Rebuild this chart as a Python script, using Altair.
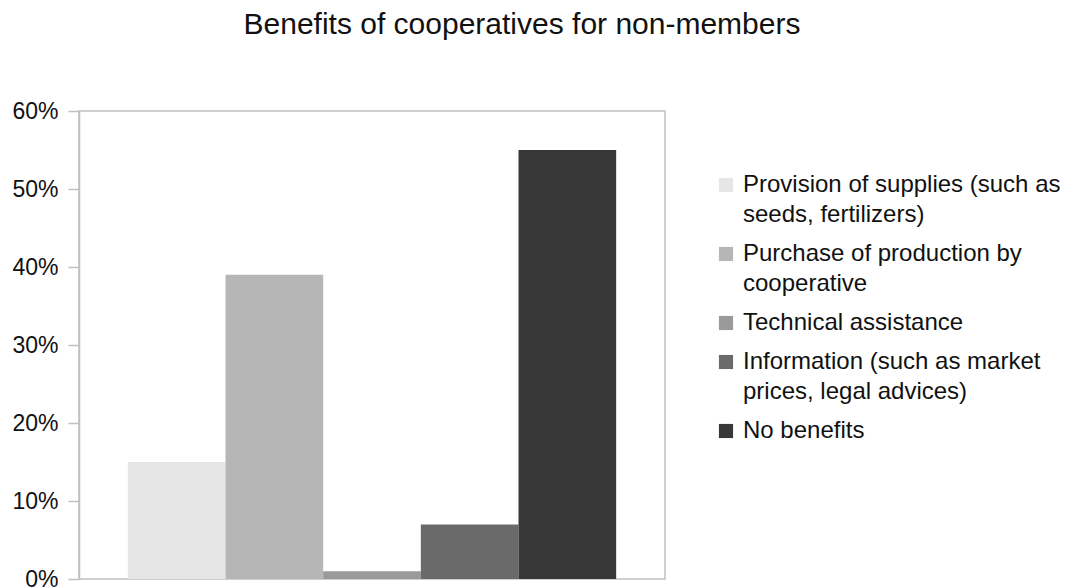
import altair as alt
import pandas as pd

categories = [
    "Provision of supplies (such as seeds, fertilizers)",
    "Purchase of production by cooperative",
    "Technical assistance",
    "Information (such as market prices, legal advices)",
    "No benefits",
]
values = [0.15, 0.39, 0.01, 0.07, 0.55]
colors = ["#e6e6e6", "#b6b6b6", "#9a9a9a", "#6a6a6a", "#383838"]
legend_lines = [
    ["Provision of supplies (such as", "seeds, fertilizers)"],
    ["Purchase of production by", "cooperative"],
    ["Technical assistance"],
    ["Information (such as market", "prices, legal advices)"],
    ["No benefits"],
]
y_ticks = [0, 0.1, 0.2, 0.3, 0.4, 0.5, 0.6]

df = pd.DataFrame({"category": categories, "value": values})

def js_str(s):
    return "'" + s.replace("'", "\\'") + "'"

label_expr = ""
for cat, lines in zip(categories, legend_lines):
    arr = "[" + ",".join(js_str(l) for l in lines) + "]"
    label_expr += f"datum.label == {js_str(cat)} ? {arr} : "
label_expr += "datum.label"

FONT = "Liberation Sans"

chart = (
    alt.Chart(df)
    .mark_bar(stroke=None)
    .encode(
        x=alt.X(
            "category:N",
            sort=categories,
            scale=alt.Scale(paddingInner=0, paddingOuter=0.5),
            axis=None,
        ),
        y=alt.Y(
            "value:Q",
            scale=alt.Scale(domain=[0, 0.6], nice=False),
            axis=alt.Axis(
                values=y_ticks,
                format=".0%",
                title=None,
                grid=False,
                tickSize=11,
                tickColor="#c0c0c0",
                tickWidth=1.5,
                domainColor="#c0c0c0",
                domainWidth=1.5,
                labelFont=FONT,
                labelFontSize=23,
                labelColor="#111111",
                labelPadding=10,
            ),
        ),
        color=alt.Color(
            "category:N",
            sort=categories,
            scale=alt.Scale(domain=categories, range=colors),
            legend=alt.Legend(
                title=None,
                orient="none",
                legendX=635,
                legendY=62,
                symbolType="square",
                symbolSize=200,
                symbolStrokeWidth=0,
                labelFont=FONT,
                labelFontSize=24,
                labelColor="#111111",
                labelOffset=5,
                labelLimit=400,
                labelExpr=label_expr,
                rowPadding=15,
            ),
        ),
    )
    .properties(
        width=586,
        height=468,
        padding={"left": 79, "top": 111, "right": 401, "bottom": 9},
        autosize=alt.AutoSizeParams(type="none"),
        title=alt.TitleParams(
            "Benefits of cooperatives for non-members",
            font=FONT,
            fontSize=30,
            fontWeight="normal",
            color="#111111",
            anchor="middle",
            dx=150,
            offset=60,
        ),
    )
    .configure(style={"guide-label": {"lineHeight": 30}})
    .configure_view(stroke="#c0c0c0", strokeWidth=1.5)
)

chart.save("out.html", embed_options={"renderer": "svg", "actions": False})
